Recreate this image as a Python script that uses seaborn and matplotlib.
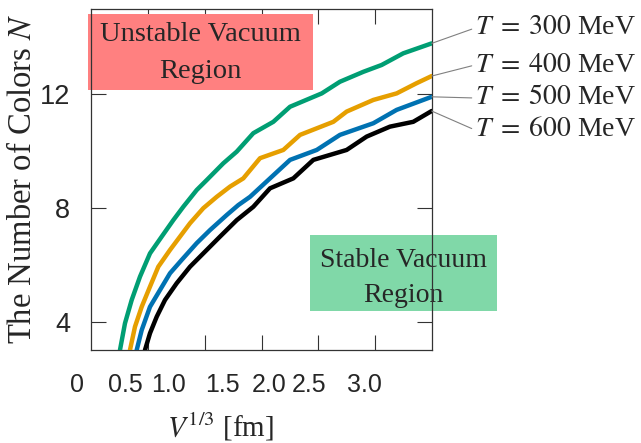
import numpy as np
import pandas as pd
import matplotlib
matplotlib.use("Agg")
import matplotlib.pyplot as plt
from matplotlib.patches import Rectangle
import matplotlib.transforms as mtransforms
import seaborn as sns

# ---- data ----
x_300 = [0.255, 0.299, 0.358, 0.431, 0.519, 0.622, 0.724, 0.812, 0.930, 1.018, 1.164, 1.282,
         1.428, 1.604, 1.751, 2.030, 2.190, 2.396, 2.557, 2.747, 2.997]
y_300 = [3.00, 3.94, 4.76, 5.58, 6.40, 6.99, 7.57, 8.04, 8.63, 8.98, 9.57, 9.98,
         10.63, 11.03, 11.56, 12.03, 12.44, 12.79, 13.03, 13.44, 13.79]

x_400 = [0.343, 0.387, 0.446, 0.519, 0.592, 0.695, 0.783, 0.871, 0.988, 1.106, 1.223, 1.340,
         1.487, 1.692, 1.839, 2.132, 2.249, 2.484, 2.689, 2.865, 2.997]
y_400 = [3.00, 3.82, 4.52, 5.23, 5.93, 6.52, 6.99, 7.46, 7.99, 8.39, 8.75, 9.04,
         9.75, 10.04, 10.57, 11.03, 11.39, 11.80, 12.03, 12.39, 12.64]

x_500 = [0.402, 0.446, 0.519, 0.607, 0.695, 0.798, 0.930, 1.047, 1.194, 1.296, 1.399, 1.575,
         1.751, 1.986, 2.190, 2.484, 2.689, 2.997]
y_500 = [3.00, 3.70, 4.52, 5.11, 5.70, 6.17, 6.76, 7.22, 7.75, 8.10, 8.39, 9.04,
         9.69, 10.04, 10.57, 10.98, 11.45, 11.91]

x_600 = [0.475, 0.519, 0.578, 0.651, 0.754, 0.871, 0.988, 1.135, 1.282, 1.428, 1.575, 1.780,
         1.956, 2.249, 2.425, 2.630, 2.835, 2.997]
y_600 = [3.00, 3.59, 4.17, 4.76, 5.35, 5.93, 6.40, 6.99, 7.57, 8.04, 8.69, 9.04,
         9.69, 10.04, 10.51, 10.86, 11.03, 11.41]

series_names = ["T300", "T400", "T500", "T600"]
series_labels = [r"$T\;=\;300$ MeV", r"$T\;=\;400$ MeV",
                 r"$T\;=\;500$ MeV", r"$T\;=\;600$ MeV"]
colors = ["#009E73", "#E69F00", "#0072B2", "#000000"]

x_tick_vals = [0.5, 1.0, 1.5, 2.0, 2.5]
x_label_texts = ["0", "0.5", "1.0", "1.5", "2.0", "2.5", "3.0"]
x_label_pos = [-0.123, 0.30, 0.68, 1.155, 1.57, 1.92, 2.41]
y_tick_vals = [4, 8, 12]

# ---- build table ----
xs = [x_300, x_400, x_500, x_600]
ys = [y_300, y_400, y_500, y_600]
df = pd.concat([pd.DataFrame({"x": xx, "y": yy, "s": n})
                for xx, yy, n in zip(xs, ys, series_names)], ignore_index=True)

sns.set_theme(style="white")
plt.rcParams["font.family"] = ["Liberation Serif", "DejaVu Serif"]
plt.rcParams["mathtext.fontset"] = "stix"

W, H = 641, 443
fig = plt.figure(figsize=(W / 100, H / 100), dpi=100)
ax = fig.add_axes([91 / W, 1 - 350 / H, 341 / W, 341 / H])

sns.lineplot(data=df, x="x", y="y", hue="s", palette=colors, hue_order=series_names,
             estimator=None, sort=False, units="s", linewidth=3.2, legend=False, ax=ax,
             zorder=3)
ax.set_xlabel("")
ax.set_ylabel("")

ax.set_xlim(0, 3.0)
ax.set_ylim(3.0, 15.0)
ax.set_xticks(x_tick_vals)
ax.set_xticklabels([])
ax.set_yticks(y_tick_vals)
ax.set_yticklabels([str(v) for v in y_tick_vals], family=["Liberation Sans"], fontsize=19.5)
ax.tick_params(axis="both", direction="in", length=11, width=0.8, color="#333333",
               top=True, right=True, bottom=True, left=True)
ax.tick_params(axis="y", pad=15)
for sp in ax.spines.values():
    sp.set_color("#333333")
    sp.set_linewidth(0.9)
    sp.set_visible(True)

# x tick labels (placed as in the reference)
trans = mtransforms.blended_transform_factory(ax.transData, ax.transAxes)
for t, p in zip(x_label_texts, x_label_pos):
    ax.text(p, -0.103, t, transform=trans, ha="center", va="center",
            family=["Liberation Sans"], fontsize=18, clip_on=False)

ax.text(0.38, -0.225, r"$V^{1/3}$ [fm]", transform=ax.transAxes, ha="center", va="center",
        fontsize=21)
fig.text(22 / W, 1 - 179 / H, r"The Number of Colors $N$", rotation=90, ha="center",
         va="center", fontsize=23.5)

# region boxes
ax.add_patch(Rectangle((-0.009, 0.762), 0.660, 0.223, transform=ax.transAxes,
                       facecolor="#FF8080", edgecolor="none", zorder=1, clip_on=False))
ax.text(0.320, 0.870, "Unstable Vacuum\nRegion", transform=ax.transAxes, ha="center",
        va="center", fontsize=20.5, linespacing=1.62, zorder=2)
ax.add_patch(Rectangle((0.642, 0.114), 0.548, 0.223, transform=ax.transAxes,
                       facecolor="#80D8A8", edgecolor="none", zorder=1, clip_on=False))
ax.text(0.915, 0.211, "Stable Vacuum\nRegion", transform=ax.transAxes, ha="center",
        va="center", fontsize=20, linespacing=1.55, zorder=2, clip_on=False)

# right-hand labels with leader lines
text_y = [28, 65, 98, 130]
for xx, yy, lab, ty in zip(xs, ys, series_labels, text_y):
    ax.annotate(lab, xy=(xx[-1], yy[-1]), xycoords="data",
                xytext=(475, H - ty), textcoords="figure pixels",
                ha="left", va="center", fontsize=20, annotation_clip=False,
                arrowprops=dict(arrowstyle="-", color="#808080", lw=0.8,
                                shrinkA=0, shrinkB=0, relpos=(0, 0.5)))

fig.savefig("out.png", dpi=100)
